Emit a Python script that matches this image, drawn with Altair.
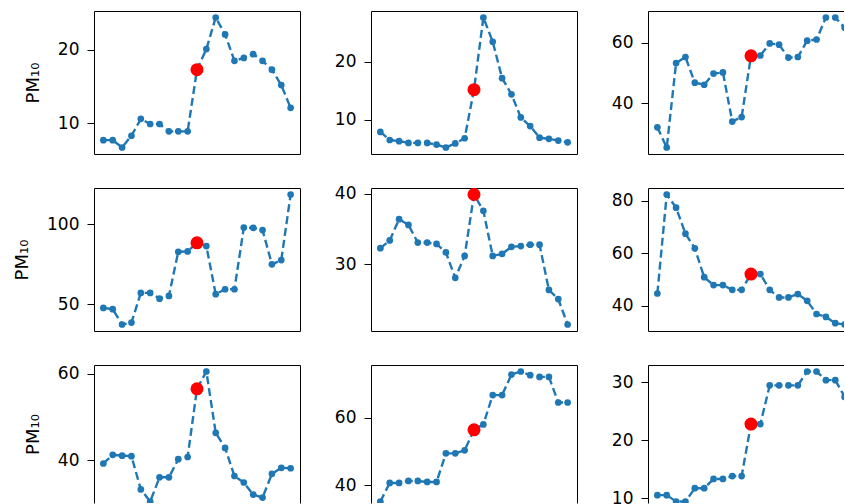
import altair as alt
import pandas as pd

# Hourly PM10 around an event (hour index 10 is the event hour)
hours = list(range(21))
EVENT_HOUR = 10

pm_a = [7.7, 7.7, 6.7, 8.3, 10.6, 9.9, 9.9, 8.9, 8.9, 8.9, 17.3,
        20.1, 24.4, 22.1, 18.5, 18.9, 19.4, 18.5, 17.3, 15.2, 12.1]
pm_b = [7.9, 6.5, 6.3, 6.0, 6.0, 6.0, 5.7, 5.2, 5.9, 6.8, 15.2,
        27.7, 23.5, 17.2, 14.4, 10.4, 8.9, 6.9, 6.7, 6.4, 6.1]
pm_c = [32.0, 25.3, 53.3, 55.3, 46.8, 46.1, 49.8, 50.2, 33.9, 35.4, 55.7,
        55.8, 59.8, 59.4, 55.1, 55.3, 60.7, 61.1, 68.4, 68.4, 65.0]
pm_d = [47.7, 46.9, 37.3, 38.5, 57.1, 57.1, 53.5, 55.2, 82.9, 83.1, 88.5,
        86.5, 56.3, 59.4, 59.4, 98.1, 97.9, 96.5, 75.0, 77.7, 118.8]
pm_e = [32.3, 33.4, 36.4, 35.6, 33.1, 33.1, 32.9, 31.7, 28.1, 31.2, 39.9,
        37.6, 31.2, 31.5, 32.5, 32.6, 32.8, 32.8, 26.4, 25.1, 21.5]
pm_f = [44.7, 82.4, 77.4, 67.5, 61.9, 50.9, 47.9, 47.9, 46.1, 46.1, 52.1,
        52.1, 46.1, 43.2, 43.2, 44.5, 41.9, 36.9, 35.8, 33.4, 32.9]
pm_g = [39.2, 41.2, 41.0, 40.9, 33.2, 30.4, 36.0, 36.0, 40.2, 40.7, 56.5,
        60.5, 46.3, 42.8, 36.3, 34.8, 32.0, 31.3, 36.8, 38.2, 38.1]
pm_h = [35.2, 40.7, 40.7, 41.3, 41.3, 41.0, 41.0, 49.5, 49.5, 50.4, 56.5,
        58.1, 66.8, 66.8, 72.9, 73.8, 72.7, 72.2, 72.2, 64.6, 64.6]
pm_i = [10.5, 10.5, 9.4, 9.4, 11.7, 11.7, 13.3, 13.3, 13.8, 13.8, 22.8,
        22.8, 29.5, 29.5, 29.5, 29.5, 31.9, 31.9, 30.4, 30.4, 27.5]

series = [pm_a, pm_b, pm_c, pm_d, pm_e, pm_f, pm_g, pm_h, pm_i]
y_ticks = [[10, 20], [10, 20], [40, 60],
           [50, 100], [30, 40], [40, 60, 80],
           [40, 60], [40, 60], [10, 20, 30]]

PANEL_W, PANEL_H = 206, 143
COL_GAP, ROW_GAP = 71, 34
EDGE_W = 196   # last column runs into the right edge of the page
EDGE_H = 138   # last row runs into the bottom edge of the page
BLUE = "#1f77b4"
RED = "#ff0000"
FONT = "DejaVu Sans"
FS = 17


def frame_axis(orient):
    return alt.Axis(orient=orient, ticks=False, labels=False, title=None,
                    grid=False, domain=True, domainColor="black", domainWidth=1)


def panel(values, ticks, row, col):
    df = pd.DataFrame({"hour": hours, "pm": values})
    lo, hi = min(values), max(values)
    m = 0.05 * (hi - lo)
    y_lo, y_hi = lo - m, hi + m
    x_lo, x_hi = -1.0, 21.0
    w = EDGE_W if col == 2 else PANEL_W
    h = EDGE_H if row == 2 else PANEL_H
    if col == 2:
        x_hi = x_lo + (x_hi - x_lo) * w / PANEL_W
    if row == 2:
        y_lo = y_hi - (y_hi - y_lo) * h / PANEL_H
    xs = alt.Scale(domain=[x_lo, x_hi], nice=False, zero=False)
    ys = alt.Scale(domain=[y_lo, y_hi], nice=False, zero=False)

    left_axis = alt.Axis(
        orient="left", values=ticks, format="d", grid=False,
        tickSize=7, tickColor="black", tickWidth=1,
        labelFont=FONT, labelFontSize=FS, labelColor="black", labelPadding=8,
        domain=True, domainColor="black", domainWidth=1,
        title="PM₁₀" if col == 0 else None,
        titleFont=FONT, titleFontSize=18, titleFontWeight="normal",
        titleColor="black", titlePadding=15,
    )
    bottom_axis = frame_axis("bottom") if row < 2 else None
    right_axis = frame_axis("right") if col < 2 else None

    line = alt.Chart(df).mark_line(
        color=BLUE, strokeWidth=2.4, strokeDash=[8, 4], clip=True
    ).encode(
        x=alt.X("hour:Q", scale=xs, axis=bottom_axis),
        y=alt.Y("pm:Q", scale=ys, axis=left_axis),
    )
    dots = alt.Chart(df).mark_circle(
        color=BLUE, size=45, opacity=1, clip=True
    ).encode(
        x=alt.X("hour:Q", scale=xs, axis=frame_axis("top")),
        y=alt.Y("pm:Q", scale=ys, axis=right_axis),
    )
    event = alt.Chart(df[df["hour"] == EVENT_HOUR]).mark_circle(
        color=RED, size=170, opacity=1, clip=True
    ).encode(
        x=alt.X("hour:Q", scale=xs, axis=None),
        y=alt.Y("pm:Q", scale=ys, axis=None),
    )
    return alt.layer(line, dots, event).resolve_axis(
        x="independent", y="independent"
    ).properties(width=w, height=h, view=alt.ViewBackground(stroke=None))


panels = [panel(series[i], y_ticks[i], i // 3, i % 3) for i in range(9)]

chart = alt.concat(
    *panels, columns=3, bounds="flush",
    spacing={"row": ROW_GAP, "column": COL_GAP},
    padding={"left": 13, "top": 11, "right": 0, "bottom": 0},
).configure_view(stroke=None)

chart.save("out.html", embed_options={"renderer": "svg", "actions": False})
